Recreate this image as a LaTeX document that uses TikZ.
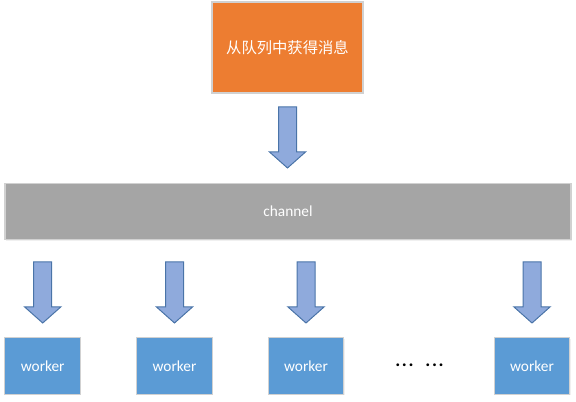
\documentclass[tikz,border=0pt]{standalone}
\usepackage{fontspec}
\setmainfont{Carlito}
\newfontfamily\cjk{Noto Sans CJK SC}
\usetikzlibrary{shadows}

\definecolor{srcorange}{HTML}{ED7D31}
\definecolor{chgray}{HTML}{A5A5A5}
\definecolor{wkblue}{HTML}{5B9BD5}
\definecolor{arrfill}{HTML}{8FAADC}
\definecolor{arredge}{HTML}{4A74A8}

\begin{document}
\begin{tikzpicture}[
                            x=0.75pt,
                            y=-0.75pt,
                            font=\fontsize{11.5pt}{13pt}\selectfont,
                            box/.style={draw=black!18,line width=0.8pt,text=white,
                                        inner sep=0pt,
                                        drop shadow={opacity=0.12,shadow xshift=0.6pt,shadow yshift=-0.9pt}},
                            srcbox/.style={box,fill=srcorange,minimum width=113.25pt,minimum height=68.25pt},
                            chbox/.style={box,fill=chgray,minimum width=424.5pt,minimum height=42pt},
                            workerbox/.style={box,fill=wkblue,minimum width=56.6pt,minimum height=42.4pt},
                            arrowshape/.style={fill=arrfill,draw=arredge,line width=0.75pt,line join=miter},
                            downarrow/.pic={
                                \draw[arrowshape] (-9,0) -- (9,0) -- (9,45) -- (18,45)
                                    -- (0,61) -- (-18,45) -- (-9,45) -- cycle;
                            }
                        ]

                        \useasboundingbox (0,0) rectangle (576,402);

                        \node[srcbox] (src) at (287.5,47.5) {\cjk 从队列中获得消息};
                        \pic at (287.5,107) {downarrow};

                        \node[chbox] (channel) at (288,211.5) {channel};

                        \foreach \i/\x in {1/42.7,2/174.5,3/306,4/532} {
                            \pic at (\x,262) {downarrow};
                            \node[workerbox] (w\i) at (\x,366) {worker};
                        }

                        \node[anchor=base,inner sep=0pt,font=\fontsize{14pt}{16pt}\selectfont\bfseries]
                            (dots) at (419.5,367) {.\kern1.2pt.\kern1.2pt.\hspace{9pt}.\kern1.2pt.\kern1.2pt.};
                    \end{tikzpicture}
\end{document}
